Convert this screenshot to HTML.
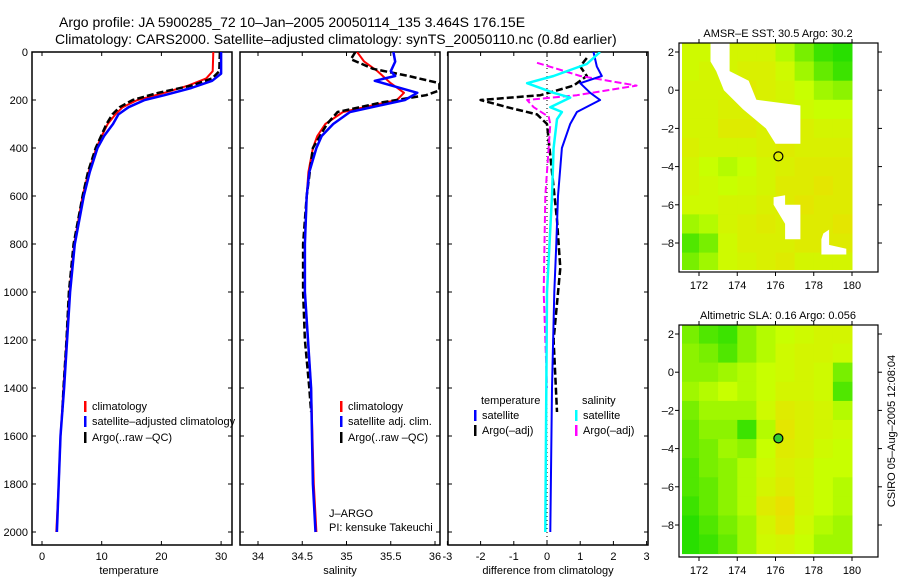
<!DOCTYPE html>
<html><head><meta charset="utf-8">
<style>
html,body{margin:0;padding:0;background:#fff;}
svg{display:block;font-family:"Liberation Sans",sans-serif;}
</style></head>
<body>
<svg id="fig" width="900" height="580" viewBox="0 0 900 580">
<text x="59" y="27" font-size="14">Argo profile: JA 5900285_72 10–Jan–2005 20050114_135 3.464S 176.15E</text>
<text x="55" y="44" font-size="14">Climatology: CARS2000. Satellite–adjusted climatology: synTS_20050110.nc (0.8d earlier)</text>
<g id="g"></g>
</svg>
<script>
// ---------- data ----------
const tClimD=[0,80,110,140,170,200,230,260,300,350,400,500,600,800,1000,1200,1400,1600,1800,2000];
const tClimV=[28.7,28.6,27.5,24.5,20.5,16,13.5,12.3,11,10,9.1,7.8,6.8,5.4,4.6,4.1,3.6,3.1,2.8,2.4];
const tSatD=[0,90,120,150,180,200,230,260,300,350,400,500,600,800,1000,1200,1400,1600,1800,2000];
const tSatV=[30,30,28.5,25,20.5,17.2,14.5,12.8,11.9,10.4,9.3,8,7,5.5,4.7,4.2,3.7,3.1,2.8,2.5];
const tArgD=[0,80,110,140,170,200,230,260,300,350,400,500,600,800,1000,1200,1400,1500];
const tArgV=[29.8,29.7,28.5,25,19.5,15.2,13,11.8,10.8,9.9,9,7.7,6.8,5.3,4.5,4.1,3.6,3.4];

const sClimD=[0,40,80,100,130,170,200,250,300,350,400,500,600,800,1000,1400,1800,2000];
const sClimV=[35.12,35.2,35.35,35.41,35.5,35.65,35.57,34.96,34.76,34.67,34.62,34.57,34.55,34.53,34.53,34.6,34.63,34.66];
const sSatD=[0,40,80,100,120,170,200,250,300,350,400,500,600,800,1000,1400,1800,2000];
const sSatV=[35.53,35.55,35.5,35.55,35.32,35.8,35.66,35.04,34.85,34.72,34.66,34.58,34.55,34.53,34.53,34.6,34.62,34.65];
const sArgD=[0,30,70,100,130,160,180,210,250,300,400,600,800,1000,1200,1400,1500];
const sArgV=[35.1,35.05,35.3,35.7,36.05,36.05,35.9,35.4,34.9,34.78,34.62,34.55,34.51,34.51,34.53,34.58,34.6];

const dTSatD=[0,60,100,130,170,200,250,300,400,600,800,1000,1400,2000];
const dTSatV=[1.4,1.5,1.65,1.0,1.3,1.6,0.9,0.7,0.45,0.33,0.28,0.22,0.15,0.1];
const dSSatD=[0,50,100,130,170,190,230,250,280,400,600,1000,2000];
const dSSatV=[1.6,1.2,0.2,-0.6,0.2,0.7,0.1,0.45,0.3,0.2,0.15,0.0,-0.05];
const dTArgD=[25,60,100,140,180,200,230,260,300,500,700,900,1200,1500];
const dTArgV=[1.2,1.0,1.2,0.8,-0.2,-2.0,-1.2,-0.3,0,0.15,0.3,0.4,0.2,0.3];
const dSArgD=[45,70,100,140,160,180,200,230,270,300,600,1000,1400];
const dSArgV=[-0.3,0.3,1.0,2.7,1.8,0.9,-0.6,-0.4,0.05,0.1,-0.05,-0.1,0];

const depthTicks=[0,200,400,600,800,1000,1200,1400,1600,1800,2000];
const tempTicks=[0,10,20,30];
const salTicks=[34,34.5,35,35.5,36];
const diffTicks=[-3,-2,-1,0,1,2,3];

const sstGrid=[
[.55,.55,.6,.6,.6,.45,.3,.15,.1],
[.55,.6,.6,.65,.65,.55,.4,.25,.15],
[.6,.6,.6,.7,.65,.6,.5,.4,.35],
[.6,.6,.65,.65,.6,.6,.55,.5,.5],
[.6,.6,.7,.7,.65,.6,.65,.6,.6],
[.65,.6,.6,.6,.65,.7,.65,.65,.65],
[.6,.5,.45,.5,.6,.65,.7,.7,.7],
[.6,.55,.5,.55,.6,.7,.7,.75,.7],
[.55,.55,.6,.6,.65,.7,.75,.7,.7],
[.4,.45,.6,.65,.7,.65,.7,.7,.75],
[.2,.3,.55,.65,.65,.65,.7,.7,.7],
[.3,.4,.55,.6,.65,.7,.6,.6,.6]];
const slaGrid=[
[.3,.2,.15,.35,.45,.5,.55,.6,.6],
[.35,.3,.2,.35,.45,.55,.6,.6,.55],
[.35,.35,.4,.45,.5,.55,.6,.55,.3],
[.4,.45,.5,.45,.5,.6,.6,.55,.2],
[.3,.4,.4,.4,.55,.7,.65,.6,.45],
[.25,.35,.35,.15,.45,.75,.65,.6,.55],
[.25,.3,.4,.35,.5,.7,.65,.55,.5],
[.2,.3,.35,.45,.55,.65,.6,.5,.5],
[.2,.25,.35,.45,.6,.7,.6,.5,.45],
[.15,.25,.35,.45,.7,.8,.6,.5,.45],
[.1,.2,.3,.4,.6,.75,.55,.45,.4],
[.1,.15,.25,.4,.55,.6,.5,.4,.4]];
const lonTicks=[172,174,176,178,180];
const latTicks=[2,0,-2,-4,-6,-8];
const mask1=[[172.6,2.5],[173.6,2.5],[173.6,1],[174.6,0.5],[175,-0.5],[177.3,-0.8],[177.3,-2.8],[176,-2.8],[175.5,-2],[174.3,-1],[173.3,0],[172.9,1],[172.6,1.5]];
const mask2=[[175.9,-5.6],[176.5,-5.5],[176.5,-6],[177.3,-6],[177.3,-7.8],[176.5,-7.8],[176.5,-7],[175.9,-6]];
const mask3=[[178.5,-7.5],[178.8,-7.3],[178.8,-8.1],[179.7,-8.3],[179.7,-8.6],[178.4,-8.6],[178.4,-7.8]];
const floatLon=176.15, floatLat=-3.464;

// ---------- helpers ----------
const NS="http://www.w3.org/2000/svg";
const G=document.getElementById('g');
function mk(tag,attrs,parent){const e=document.createElementNS(NS,tag);for(const k in attrs)e.setAttribute(k,attrs[k]);(parent||G).appendChild(e);return e;}
const yD=d=>52+d*0.24;
const xT=t=>42+t*5.97;
const xS=s=>258+(s-34)*88.5;
const xDf=v=>547+v*33.2;

function frame(x0,x1,name){
  const r=mk('rect',{x:x0,y:52,width:x1-x0,height:493,fill:'none',stroke:'#000','stroke-width':1.5});
  
  
}
function line(D,V,xf,color,w,dash,name){
  const pts=D.map((d,i)=>xf(V[i]).toFixed(1)+','+yD(d).toFixed(1)).join(' ');
  const a={points:pts,fill:'none',stroke:color,'stroke-width':w,'stroke-linejoin':'round'};
  if(dash)a['stroke-dasharray']=dash;
  const p=mk('polyline',a);
  
  
}
function xTicks(vals,xf,x0,x1,label,lblx,name){
  vals.forEach(v=>{
    const x=xf(v);
    mk('line',{x1:x,x2:x,y1:545,y2:541,stroke:'#000'});
    mk('line',{x1:x,x2:x,y1:52,y2:56,stroke:'#000'});
    const t=mk('text',{x:x,y:560,'font-size':11,'text-anchor':'middle'});t.textContent=String(v);
    
    
  });
  const t=mk('text',{x:lblx,y:574,'font-size':11,'text-anchor':'middle'});t.textContent=label;
  
  
}
function yTicks(x0,x1,labels){
  depthTicks.forEach(d=>{
    const y=yD(d);
    mk('line',{x1:x0,x2:x0+4,y1:y,y2:y,stroke:'#000'});
    mk('line',{x1:x1,x2:x1-4,y1:y,y2:y,stroke:'#000'});
    if(labels){const t=mk('text',{x:28,y:y+4,'font-size':11,'text-anchor':'end'});t.textContent=String(d);
      
      }
  });
}
function legItem(x,y,color,text,name){
  mk('rect',{x:x,y:y-9,width:2.5,height:11,fill:color});
  const t=mk('text',{x:x+8,y:y,'font-size':11});t.textContent=text;
  
  
}

// ---------- panel 1 temperature ----------
frame(32,232,'temperature-panel');
yTicks(32,232,true);
xTicks(tempTicks,xT,32,232,'temperature',129,'temperature');
line(tClimD,tClimV,xT,'#ff0000',2,null,'temperature-climatology-line');
line(tArgD,tArgV,xT,'#000',2.5,'7,3','temperature-argo-line');
line(tSatD,tSatV,xT,'#0000ff',2.5,null,'temperature-satellite-line');
legItem(84,410,'#ff0000','climatology','legend-climatology');
legItem(84,425,'#0000ff','satellite–adjusted climatology','legend-satellite-adjusted');
legItem(84,441,'#000','Argo(..raw –QC)','legend-argo');

// ---------- panel 2 salinity ----------
frame(240,440,'salinity-panel');
yTicks(240,440,false);
xTicks(salTicks,xS,240,440,'salinity',340,'salinity');
const cp=mk('clipPath',{id:'c2'});mk('rect',{x:240,y:52,width:200,height:493},cp);
const g2=mk('g',{'clip-path':'url(#c2)'});
{const old=G;}
function lineIn(parent,D,V,xf,color,w,dash,name){
  const pts=D.map((d,i)=>xf(V[i]).toFixed(1)+','+yD(d).toFixed(1)).join(' ');
  const a={points:pts,fill:'none',stroke:color,'stroke-width':w,'stroke-linejoin':'round'};
  if(dash)a['stroke-dasharray']=dash;
  const p=mk('polyline',a,parent);
  
  
}
lineIn(g2,sClimD,sClimV,xS,'#ff0000',2,null,'salinity-climatology-line');
lineIn(g2,sArgD,sArgV,xS,'#000',2.5,'7,3','salinity-argo-line');
lineIn(g2,sSatD,sSatV,xS,'#0000ff',2.5,null,'salinity-satellite-line');
legItem(340,410,'#ff0000','climatology','legend-sal-climatology');
legItem(340,425,'#0000ff','satellite adj. clim.','legend-sal-satellite');
legItem(340,441,'#000','Argo(..raw –QC)','legend-sal-argo');
{const t=mk('text',{x:329,y:555-38,'font-size':11});t.textContent='J–ARGO';


const t2=mk('text',{x:329,y:531,'font-size':11});t2.textContent='PI: kensuke Takeuchi';

}

// ---------- panel 3 differences ----------
frame(448,648,'difference-panel');
yTicks(448,648,false);
xTicks(diffTicks,xDf,448,648,'difference from climatology',548,'difference');
mk('line',{x1:xDf(0),x2:xDf(0),y1:52,y2:545,stroke:'#000','stroke-dasharray':'1,3'});
const cp3=mk('clipPath',{id:'c3'});mk('rect',{x:448,y:52,width:200,height:493},cp3);
const g3=mk('g',{'clip-path':'url(#c3)'});
lineIn(g3,dTArgD,dTArgV,xDf,'#000',2.5,'7,3','temp-argo-diff-line');
lineIn(g3,dSArgD,dSArgV,xDf,'#ff00ff',2,'7,3','sal-argo-diff-line');
lineIn(g3,dTSatD,dTSatV,xDf,'#0000ff',2,null,'temp-satellite-diff-line');
lineIn(g3,dSSatD,dSSatV,xDf,'#00ffff',2.5,null,'sal-satellite-diff-line');
{const t=mk('text',{x:481,y:404,'font-size':11});t.textContent='temperature';


const t2=mk('text',{x:582,y:404,'font-size':11});t2.textContent='salinity';

}
legItem(474,419,'#0000ff','satellite','legend-temp-satellite');
legItem(474,434,'#000','Argo(–adj)','legend-temp-argo');
legItem(575,419,'#00ffff','satellite','legend-sal-satellite-diff');
legItem(575,434,'#ff00ff','Argo(–adj)','legend-sal-argo-diff');

// ---------- maps ----------
function col(v){
  let r,g,b;
  if(v<0.5){const f=v/0.5;r=Math.round(0+200*f);g=Math.round(215+40*f);b=0;}
  else{const f=(v-0.5)/0.5;r=Math.round(200+55*f);g=Math.round(255-50*f);b=0;}
  return 'rgb('+r+','+g+','+b+')';
}
function drawMap(top,bottom,grid,masks,title,filled,name){
  const lx=lon=>699+(lon-172)*19.125;
  const ly=lat=>top+9+(2-lat)*19.1;
  const fx0=679,fx1=878;
  const cp=mk('clipPath',{id:'cm'+name});mk('rect',{x:682,y:top,width:173,height:bottom-top-2},cp);
  const gm=mk('g',{'clip-path':'url(#cm'+name+')'});
  
  
  grid.forEach((row,i)=>{row.forEach((v,j)=>{
    const lon=171+j, lat=2.5-i;
    const c=mk('rect',{x:lx(lon).toFixed(1),y:ly(lat).toFixed(1),width:19.6,height:19.6,fill:col(v)},gm);
    
    
  });});
  masks.forEach(m=>{
    const p=mk('polygon',{points:m.map(q=>lx(q[0]).toFixed(1)+','+ly(q[1]).toFixed(1)).join(' '),fill:masks.white?'#fff':'#fff'},gm);
    
    
  });
  const fr=mk('rect',{x:fx0,y:top,width:fx1-fx0,height:bottom-top,fill:'none',stroke:'#000','stroke-width':1.2});
  
  
  lonTicks.forEach(l=>{const x=lx(l);
    mk('line',{x1:x,x2:x,y1:bottom,y2:bottom+4,stroke:'#000'});
    mk('line',{x1:x,x2:x,y1:top,y2:top-4,stroke:'#000'});
    const t=mk('text',{x:x,y:bottom+17,'font-size':11,'text-anchor':'middle'});t.textContent=String(l);
    
    });
  latTicks.forEach(l=>{const y=ly(l);
    mk('line',{x1:fx0,x2:fx0-4,y1:y,y2:y,stroke:'#000'});
    mk('line',{x1:fx1,x2:fx1+4,y1:y,y2:y,stroke:'#000'});
    const t=mk('text',{x:674,y:y+4,'font-size':11,'text-anchor':'end'});t.textContent=String(l).replace('-','–');
    
    });
  const c=mk('circle',{cx:lx(floatLon),cy:ly(floatLat),r:4.5,fill:filled?'#33cc33':'none',stroke:'#000','stroke-width':1.2});
  
  
  const t=mk('text',{x:778,y:top-6,'font-size':11,'text-anchor':'middle'});t.textContent=title;
  
  
}
drawMap(43,272,sstGrid,[mask1,mask2,mask3],'AMSR–E SST: 30.5 Argo: 30.2',false,'sst-map');
drawMap(325,557,slaGrid,[],'Altimetric SLA: 0.16 Argo: 0.056',true,'sla-map');
{const t=mk('text',{x:0,y:0,'font-size':11,'text-anchor':'middle',transform:'translate(895,431) rotate(-90)'});
t.textContent='CSIRO 05–Aug–2005 12:08:04';

}
</script>
</body></html>
